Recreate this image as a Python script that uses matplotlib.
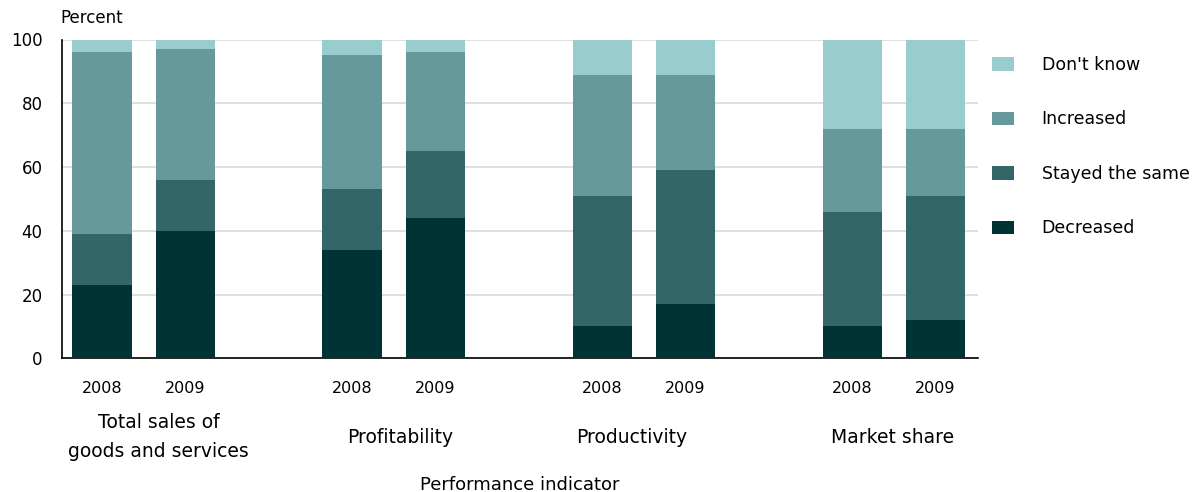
import matplotlib
matplotlib.use("Agg")
import matplotlib.pyplot as plt
import numpy as np

indicators = ["Total sales of\ngoods and services", "Profitability", "Productivity", "Market share"]
years = ["2008", "2009"]

# percent of businesses, one value per bar (indicator x year)
decreased = [23, 40, 34, 44, 10, 17, 10, 12]
stayed_same = [16, 16, 19, 21, 41, 42, 36, 39]
increased = [57, 41, 42, 31, 38, 30, 26, 21]
dont_know = [4, 3, 5, 4, 11, 11, 28, 28]

series = [
    ("Decreased", decreased, "#003333"),
    ("Stayed the same", stayed_same, "#336666"),
    ("Increased", increased, "#669999"),
    ("Don't know", dont_know, "#99CCCC"),
]

# two bars per indicator, one empty slot between groups
x = []
for g in range(len(indicators)):
    for k in range(len(years)):
        x.append(g * 3 + k)
x = np.array(x, dtype=float)

fig = plt.figure(figsize=(12, 4.92), dpi=100)
ax = fig.add_axes([62 / 1200, 1 - 358.3 / 492, (978 - 62) / 1200, 318.8 / 492])

bottom = np.zeros(len(x))
handles = []
for name, vals, col in series:
    b = ax.bar(x, vals, width=0.71, bottom=bottom, color=col, label=name, zorder=3)
    handles.append(b)
    bottom += np.array(vals)

ax.set_xlim(-0.48, 10.51)
ax.set_ylim(0, 100)
ax.set_yticks([0, 20, 40, 60, 80, 100])
ax.yaxis.grid(True, color="#d9d9d9", linewidth=1.2, zorder=0)
ax.set_axisbelow(True)
for s in ["top", "right"]:
    ax.spines[s].set_visible(False)
ax.spines["left"].set_linewidth(1.2)
ax.spines["bottom"].set_linewidth(1.2)
ax.tick_params(axis="y", length=0, pad=14, labelsize=12)

ax.set_xticks(x)
ax.set_xticklabels(years * len(indicators))
ax.tick_params(axis="x", length=0, pad=16, labelsize=11.5)

# group captions sit a little off the group centres
label_x = [0.68, 3.58, 6.36, 9.49]
for name, cx in zip(indicators, label_x):
    ax.text(cx, -0.247, name, transform=ax.get_xaxis_transform(),
            ha="center", va="center", fontsize=13.5, linespacing=1.7)

fig.text(520 / 1200, 1 - 485 / 492, "Performance indicator", ha="center", va="center", fontsize=13)
fig.text(60 / 1200, 1 - 18 / 492, "Percent", ha="left", va="center", fontsize=12)

leg = fig.legend(handles[::-1], [s[0] for s in series][::-1],
                 loc="upper left", bbox_to_anchor=(992 / 1200, 1 - 56 / 492),
                 frameon=False, fontsize=12.5, handlelength=1.26, handleheight=0.8,
                 handletextpad=1.6, labelspacing=2.1, borderpad=0, borderaxespad=0)

fig.savefig("out.png", dpi=100)
